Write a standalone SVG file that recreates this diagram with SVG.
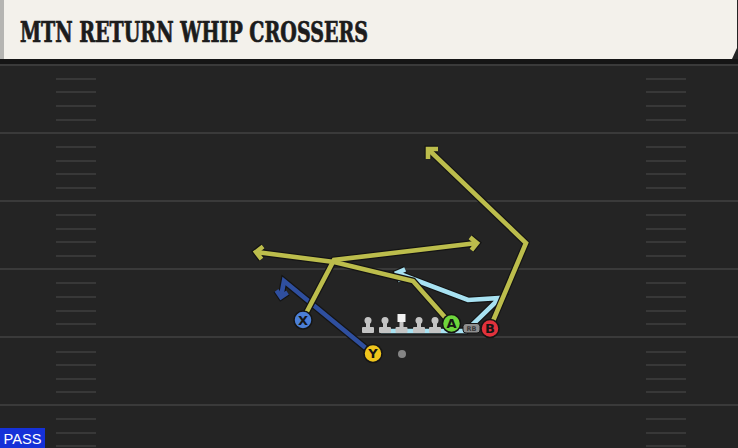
<svg xmlns="http://www.w3.org/2000/svg" width="738" height="448" viewBox="0 0 738 448">
<style>
.yl{stroke:#3a3a3a;stroke-width:2}
.hm{stroke:#383838;stroke-width:2}
.o{fill:none;stroke:#141414;stroke-width:7;stroke-linejoin:miter;stroke-linecap:butt}
.ry{fill:none;stroke:#bcbd4c;stroke-width:4.6;stroke-linejoin:miter}
.rl{fill:none;stroke:#a8e2f2;stroke-width:4.6;stroke-linejoin:miter}
.rd{fill:none;stroke:#2f4f9f;stroke-width:4.6;stroke-linejoin:miter}
.pc{stroke:#151515;stroke-width:1.5}
.pt{font-family:"DejaVu Sans","Liberation Sans",sans-serif;font-weight:bold;font-size:13px;fill:#151515;text-anchor:middle}
.ol{fill:#c4c4c4}
</style>
<rect x="0" y="0" width="738" height="448" fill="#242424"/>
<g id="field">
<line class="yl" x1="0" y1="65" x2="738" y2="65"/>
<line class="yl" x1="0" y1="133" x2="738" y2="133"/>
<line class="yl" x1="0" y1="201" x2="738" y2="201"/>
<line class="yl" x1="0" y1="269" x2="738" y2="269"/>
<line class="yl" x1="0" y1="337" x2="738" y2="337"/>
<line class="yl" x1="0" y1="405" x2="738" y2="405"/>
<g class="hm">
<line x1="56" y1="79" x2="96" y2="79"/><line x1="56" y1="92" x2="96" y2="92"/><line x1="56" y1="106" x2="96" y2="106"/><line x1="56" y1="120" x2="96" y2="120"/>
<line x1="56" y1="147" x2="96" y2="147"/><line x1="56" y1="161" x2="96" y2="161"/><line x1="56" y1="174" x2="96" y2="174"/><line x1="56" y1="188" x2="96" y2="188"/>
<line x1="56" y1="215" x2="96" y2="215"/><line x1="56" y1="229" x2="96" y2="229"/><line x1="56" y1="242" x2="96" y2="242"/><line x1="56" y1="256" x2="96" y2="256"/>
<line x1="56" y1="283" x2="96" y2="283"/><line x1="56" y1="297" x2="96" y2="297"/><line x1="56" y1="311" x2="96" y2="311"/><line x1="56" y1="324" x2="96" y2="324"/>
<line x1="56" y1="352" x2="96" y2="352"/><line x1="56" y1="365" x2="96" y2="365"/><line x1="56" y1="379" x2="96" y2="379"/><line x1="56" y1="392" x2="96" y2="392"/>
<line x1="56" y1="419" x2="96" y2="419"/><line x1="56" y1="433" x2="96" y2="433"/><line x1="56" y1="446" x2="96" y2="446"/>
<line x1="646" y1="79" x2="686" y2="79"/><line x1="646" y1="92" x2="686" y2="92"/><line x1="646" y1="106" x2="686" y2="106"/><line x1="646" y1="120" x2="686" y2="120"/>
<line x1="646" y1="147" x2="686" y2="147"/><line x1="646" y1="161" x2="686" y2="161"/><line x1="646" y1="174" x2="686" y2="174"/><line x1="646" y1="188" x2="686" y2="188"/>
<line x1="646" y1="215" x2="686" y2="215"/><line x1="646" y1="229" x2="686" y2="229"/><line x1="646" y1="242" x2="686" y2="242"/><line x1="646" y1="256" x2="686" y2="256"/>
<line x1="646" y1="283" x2="686" y2="283"/><line x1="646" y1="297" x2="686" y2="297"/><line x1="646" y1="311" x2="686" y2="311"/><line x1="646" y1="324" x2="686" y2="324"/>
<line x1="646" y1="352" x2="686" y2="352"/><line x1="646" y1="365" x2="686" y2="365"/><line x1="646" y1="379" x2="686" y2="379"/><line x1="646" y1="392" x2="686" y2="392"/>
<line x1="646" y1="419" x2="686" y2="419"/><line x1="646" y1="433" x2="686" y2="433"/><line x1="646" y1="446" x2="686" y2="446"/>
</g>
</g>
<g id="header">
<rect x="0" y="59" width="738" height="5" fill="#151515"/>
<path d="M0 0 H737 V48 L732 59 H0 Z" fill="#f3f1eb"/>
<rect x="0" y="0" width="4" height="59" fill="#b5b5b2"/>
<text x="20" y="42" font-family="'DejaVu Serif','Liberation Serif',serif" font-weight="bold" font-stretch="condensed" font-size="27" fill="#1c1c1c" stroke="#1c1c1c" stroke-width="0.7" textLength="348" lengthAdjust="spacingAndGlyphs">MTN RETURN WHIP CROSSERS</text>
</g>
<g id="connectors">
<polyline class="o" points="381,331 466,331 500,298 468,300 397,273"/>
<polyline class="o" points="400.7,281.2 397,273 405.2,269.3"/>
<polyline class="rl" points="381,331 466,331 500,298 468,300 397,273"/>
<polyline class="rl" points="400.7,281.2 397,273 405.2,269.3"/>
<polyline class="o" points="373,354 284,281 281,297"/>
<polyline class="o" points="287.6,292.5 281,297 276.5,290.4"/>
<polyline class="rd" points="373,354 284,281 281,297"/>
<polyline class="rd" points="287.6,292.5 281,297 276.5,290.4"/>
<polyline class="o" points="451,324 413,281 334,262 256,252"/>
<polyline class="o" points="261.5,259.1 256,252 263.1,246.5"/>
<polyline class="o" points="303,319 334,260 477,243"/>
<polyline class="o" points="470,237.4 477,243 471.4,250.1"/>
<polyline class="o" points="490,328 526,243 428,149"/>
<polyline class="o" points="428,159 428,149 438,149"/>
<polyline class="ry" points="451,324 413,281 334,262 256,252"/>
<polyline class="ry" points="261.5,259.1 256,252 263.1,246.5"/>
<polyline class="ry" points="303,319 334,260 477,243"/>
<polyline class="ry" points="470,237.4 477,243 471.4,250.1"/>
<polyline class="ry" points="490,328 526,243 428,149"/>
<polyline class="ry" points="428,159 428,149 438,149"/>
</g>
<g id="ol">
<g class="ol">
<circle cx="368" cy="320.5" r="3.5"/><rect x="366" y="322" width="4" height="6"/><rect x="362" y="327" width="12" height="6" rx="1"/>
<circle cx="385" cy="320.5" r="3.5"/><rect x="383" y="322" width="4" height="6"/><rect x="379" y="327" width="12" height="6" rx="1"/>
<rect x="397.5" y="314" width="8" height="8" fill="#f2f2f2"/><rect x="399.5" y="322" width="4" height="6"/><rect x="395.5" y="327" width="12" height="6" rx="1"/>
<circle cx="419" cy="320.5" r="3.5"/><rect x="417" y="322" width="4" height="6"/><rect x="413" y="327" width="12" height="6" rx="1"/>
<circle cx="435" cy="320.5" r="3.5"/><rect x="433" y="322" width="4" height="6"/><rect x="429" y="327" width="12" height="6" rx="1"/>
</g>
</g>
<g id="X"><circle class="pc" cx="303" cy="320" r="9" fill="#4b7fd6"/><text class="pt" x="303" y="324.7">X</text></g>
<g id="A"><circle class="pc" cx="451.5" cy="323.5" r="9" fill="#6ed53c"/><text class="pt" x="451.5" y="328.2">A</text></g>
<g id="RB"><rect x="463" y="323.5" width="17" height="9.5" rx="3" fill="#8e8e8e" stroke="#151515" stroke-width="1"/><text x="471.5" y="331" font-family="'DejaVu Sans','Liberation Sans',sans-serif" font-weight="bold" font-size="6.5" fill="#3a3a3a" text-anchor="middle">RB</text></g>
<g id="B"><circle class="pc" cx="490" cy="328.5" r="9" fill="#e2323c"/><text class="pt" x="490" y="333.2">B</text></g>
<g id="Y"><circle class="pc" cx="373" cy="353.5" r="9" fill="#f0c51c"/><text class="pt" x="373" y="358.2">Y</text></g>
<g id="QB"><circle cx="402" cy="354" r="4" fill="#858585"/></g>
<g id="tag"><rect x="0" y="428" width="45" height="20" fill="#1531d8"/><text x="22.5" y="444" font-family="'Liberation Sans',Arial,sans-serif" font-size="15" fill="#ffffff" text-anchor="middle" textLength="38" lengthAdjust="spacingAndGlyphs">PASS</text></g>
</svg>
